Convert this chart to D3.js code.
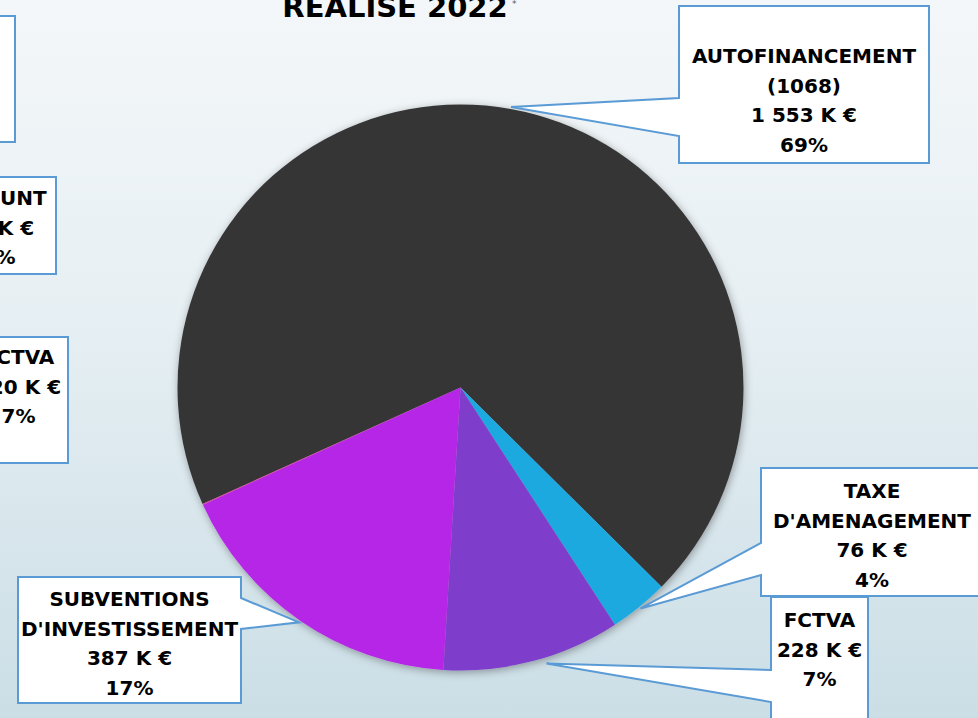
<!DOCTYPE html>
<html lang="fr">
<head>
<meta charset="UTF-8">
<title>Réalisé 2022</title>
<script src="https://d3js.org/d3.v7.min.js"></script>
<style>
  body { margin: 0; overflow: hidden; }
  svg { display: block; font-family: "DejaVu Sans", sans-serif; }
  .lbl text { font-weight: bold; font-size: 20px; fill: #000; text-anchor: middle; }
</style>
</head>
<body>
<div id="chart"></div>
<script>
// slices, in drawing order (clockwise)
const names = [["AUTOFINANCEMENT", "(1068)"], ["TAXE", "D'AMENAGEMENT"], ["FCTVA"], ["SUBVENTIONS", "D'INVESTISSEMENT"], ["EMPRUNT"]];
const values = [1553, 76, 228, 387, 1];
const pcts = [69, 4, 7, 17, 0];
const colors = ["#363636", "#1fa9e0", "#7e3ecb", "#b626e6", "#e8409a"];

// stale labels left over at the left edge of the slide
const otherNames = [[], ["EMPRUNT"], ["FCTVA"]];
const otherAmounts = [null, 300, 220];
const otherPcts = [null, 13, 7];

const width = 978, height = 718;
const cx = 460.5, cy = 387.5, radius = 283;
const firstSliceAngle = -114.3; // degrees, clockwise from 12 o'clock

// callout boxes (layout only); dA/dR nudge the pointer tip
const boxes = [
  { x: 679, y: 6, w: 250, h: 157, side: "left", a1: 98, a2: 136, y0: 63 },
  { x: 761, y: 468, w: 222, h: 128, side: "left", a1: 543, a2: 575, y0: 498 },
  { x: 771, y: 597, w: 97, h: 140, side: "left", a1: 670, a2: 702, y0: 627, dA: -2.5, dR: 4 },
  { x: 18, y: 577, w: 223, h: 126, side: "right", a1: 598, a2: 629, y0: 606 },
  null
];
const otherBoxes = [
  { x: -200, y: 16, w: 215, h: 126, y0: 60 },
  { x: -73, y: 177, w: 129, h: 97, y0: 205 },
  { x: -31, y: 337, w: 99, h: 126, y0: 364 }
];
const lineGap = 29.5;

const fr = d3.formatLocale({ decimal: ",", thousands: " ", grouping: [3], currency: ["", " €"] });
const fmt = fr.format(",");
const linesFor = (n, v, p) => v == null ? n : n.concat([fmt(v) + " K €", p + "%"]);

const svg = d3.select("#chart").append("svg")
  .attr("width", width)
  .attr("height", height);

const defs = svg.append("defs");
const grad = defs.append("linearGradient").attr("id", "bg")
  .attr("x1", 0).attr("y1", 0).attr("x2", 0).attr("y2", 1);
grad.append("stop").attr("offset", "0%").attr("stop-color", "#f4f7f9");
grad.append("stop").attr("offset", "45%").attr("stop-color", "#e6eff3");
grad.append("stop").attr("offset", "100%").attr("stop-color", "#cbdee6");
defs.append("filter").attr("id", "shadow")
  .attr("x", "-10%").attr("y", "-10%").attr("width", "120%").attr("height", "120%")
  .append("feDropShadow")
  .attr("dx", 1).attr("dy", 2).attr("stdDeviation", 4)
  .attr("flood-color", "#000").attr("flood-opacity", 0.35);

svg.append("rect").attr("width", width).attr("height", height).attr("fill", "url(#bg)");

// title (cut at the top of the slide)
svg.append("text")
  .attr("x", 395).attr("y", 17)
  .attr("text-anchor", "middle")
  .style("font-size", "29px").style("font-weight", "bold")
  .text("RÉALISÉ 2022");
svg.append("text")
  .attr("x", 512).attr("y", 7)
  .style("font-size", "9px").style("fill", "#555")
  .text("*");

// pie
const rad = Math.PI / 180;
const pie = d3.pie().sort(null).value(d => d)
  .startAngle(firstSliceAngle * rad)
  .endAngle(firstSliceAngle * rad + 2 * Math.PI);
const arcs = pie(values);
const arc = d3.arc().innerRadius(0).outerRadius(radius);

const g = svg.append("g")
  .attr("transform", `translate(${cx},${cy})`)
  .attr("filter", "url(#shadow)");
g.selectAll("path")
  .data(arcs)
  .join("path")
  .attr("d", arc)
  .attr("fill", (d, i) => colors[i]);

// callouts
function calloutPath(b, t) {
  if (b.side === "left") {
    return `M${b.x},${b.y}H${b.x + b.w}V${b.y + b.h}H${b.x}V${b.a2}L${t[0]},${t[1]}L${b.x},${b.a1}Z`;
  }
  return `M${b.x},${b.y}H${b.x + b.w}V${b.a1}L${t[0]},${t[1]}L${b.x + b.w},${b.a2}V${b.y + b.h}H${b.x}Z`;
}

const tip = (d, b) => {
  const a = (d.startAngle + d.endAngle) / 2 + (b.dA || 0) * rad;
  const r = radius + 2 + (b.dR || 0);
  return [cx + r * Math.sin(a), cy - r * Math.cos(a)];
};

const labels = svg.append("g").attr("class", "lbl");
arcs.forEach((d, i) => {
  const b = boxes[i];
  if (!b) return;
  const grp = labels.append("g");
  grp.append("path")
    .attr("d", calloutPath(b, tip(d, b)))
    .attr("fill", "#fff")
    .attr("stroke", "#5b9bd5")
    .attr("stroke-width", 2);
  linesFor(names[i], values[i], pcts[i]).forEach((s, k) => {
    grp.append("text")
      .attr("x", b.x + b.w / 2)
      .attr("y", b.y0 + k * lineGap)
      .text(s);
  });
});

otherBoxes.forEach((b, i) => {
  const grp = labels.append("g");
  grp.append("rect")
    .attr("x", b.x).attr("y", b.y).attr("width", b.w).attr("height", b.h)
    .attr("fill", "#fff")
    .attr("stroke", "#5b9bd5")
    .attr("stroke-width", 2);
  linesFor(otherNames[i], otherAmounts[i], otherPcts[i]).forEach((s, k) => {
    grp.append("text")
      .attr("x", b.x + b.w / 2)
      .attr("y", b.y0 + k * lineGap)
      .text(s);
  });
});
</script>
</body>
</html>
